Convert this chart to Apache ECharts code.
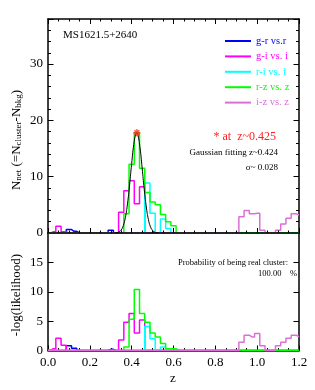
<!DOCTYPE html>
<html><head><meta charset="utf-8">
<script src="https://cdn.jsdelivr.net/npm/echarts@6/dist/echarts.min.js"></script>
<style>html,body{margin:0;padding:0;background:#fff}#c{width:315px;height:390px}</style>
</head><body><div id="c"></div>
<script>
// bin centres (redshift), bin width 0.025
const BINS = [0,0.025,0.05,0.075,0.1,0.125,0.15,0.175,0.2,0.225,0.25,0.275,0.3,0.325,0.35,0.375,0.4,0.425,0.45,0.475,0.5,0.525,0.55,0.575,0.6,
  0.625,0.65,0.675,0.7,0.725,0.75,0.775,0.8,0.825,0.85,0.875,0.9,
  0.925,0.95,0.975,1.0,1.025,1.05,1.075,1.1,1.125,1.15,1.175,1.2];

const SERIES_NAMES = ['g-r vs.r','g-i vs. i','r-i vs. i','r-z vs. z','i-z vs. z'];
const SERIES_COLORS = ['#0000FF','#FF00FF','#00FFFF','#00FF00','#DA70D6'];

// top panel: N_net
const TOP_GR = [0,0,0,0,0.6,0.3,0,0,0,0,0,0,0.5,0,0,0,0,0,0,0,0,0,0,0,0, 0,0,0,0,0,0,0,0,0,0,0,0, 0,0,0,0,0,0,0,0,0,0,0,0];
const TOP_GI = [0,0.2,1.2,0.2,0,0,0,0,0,0,0,0,0,0,3.7,7.5,9.3,5.2,8.2,0,0,0,0,0,0, 0,0,0,0,0,0,0,0,0,0,0,0, 0,0,0,0,0,0,0,0,0,0,0,0];
const TOP_RI = [0,0,0,0,0,0,0,0,0,0,0,0,0,0,0,0,0,0,0,8.9,3.5,0,2.5,0.8,0, 0,0,0,0,0,0,0,0,0,0,0,0, 0,0,0,0,0,0,0,0,0,0,0,0];
const TOP_RZ = [0,0,0,0,0,0,0,0,0,0,0,0,0,0,0,3.4,12.2,17.8,11.5,7.2,5.5,5.0,3.3,2.0,1.3, 0,0,0,0,0,0,0,0,0,0,0,0, 0,0,0,0,0,0,0,0,0,0,0,0];
const TOP_IZ = [0,0,0,0,0,0,0,0,0,0,0,0,0,0,0,0,0,0,0,0,0,0,0,0,0, 0,0,0,0,0,0,0,0,0,0,0,0, 2.9,4.0,3.4,3.5,0.5,0,0,0.5,1.6,2.6,3.4,3.2];

// bottom panel: -log(likelihood)
const BOT_GR = [0,0,0,0,0.8,0.4,0,0,0,0,0,0,0.2,0,0,0,0,0,0,0,0,0,0,0,0, 0,0,0,0,0,0,0,0,0,0,0,0, 0,0,0,0,0,0,0,0,0,0,0,0];
const BOT_GI = [0,0.3,2.1,0.9,0,0,0,0,0,0,0,0,0,0,1.8,4.8,6.3,3.0,5.2,0,0,0,0,0,0, 0,0,0,0,0,0,0,0,0,0,0,0, 0,0,0,0,0,0,0,0,0,0,0,0];
const BOT_RI = [0,0,0,0,0,0,0,0,0,0,0,0,0,0,0,0,0,0,0,4.1,2.0,0,0.6,0,0, 0,0,0,0,0,0,0,0,0,0,0,0, 0,0,0,0,0,0,0,0,0,0,0,0];
const BOT_RZ = [0,0,0,0,0,0,0,0,0,0,0,0,0,0,0,0.6,5.3,10.4,6.3,4.8,3.0,2.3,1.2,0.3,0.3, 0,0,0,0,0,0,0,0,0,0,0,0, 0,0,0,0,0,0,0,0,0,0,0,0];
const BOT_IZ = [0,0,0,0,0,0,0,0,0,0,0,0,0,0,0,0,0,0,0,0,0,0,0,0,0, 0,0,0,0,0,0,0,0,0,0,0,0, 1.4,2.6,2.3,2.9,0.8,0,0,0.8,1.4,2.1,2.6,2.3];

// Gaussian fit curve
const GAUSS_Z = [0.32,0.33,0.34,0.35,0.36,0.37,0.38,0.39,0.40,0.41,0.42,0.425,0.43,0.44,0.45,0.46,0.47,0.48,0.49,0.50,0.51,0.52,0.53];
const GAUSS_V = [0.02,0.06,0.2,0.54,1.31,2.77,5.18,8.52,12.33,15.71,17.62,17.79,17.40,15.12,11.57,7.79,4.62,2.41,1.11,0.45,0.16,0.05,0.02];

const PEAK = [[0.425, 17.8]];

const X_MIN = 0, X_MAX = 1.2, X_STEP = 0.2;
const TOP_Y_MAX = 38, BOT_Y_MAX = 20;

const FONT = 'Liberation Serif';
const TOP = [TOP_GR, TOP_GI, TOP_RI, TOP_RZ, TOP_IZ];
const BOT = [BOT_GR, BOT_GI, BOT_RI, BOT_RZ, BOT_IZ];

function pairs(vals){ return BINS.map((z,i)=>[z, vals[i]]); }

function xAx(grid, pos, labels, z){
  return {type:'value', gridIndex:grid, position:pos, min:X_MIN, max:X_MAX, interval:X_STEP, z:z||0,
    axisLine:{show:true, onZero:false, lineStyle:{color:'#000', width:1.5}},
    axisTick:{show:true, inside:true, length:5, lineStyle:{color:'#000', width:1}},
    minorTick:{show:true, splitNumber:4, length:2.5, lineStyle:{color:'#000', width:1}},
    splitLine:{show:false}, minorSplitLine:{show:false},
    axisLabel:{show:labels, margin:6, color:'#000', fontFamily:FONT, fontSize:13, formatter:v=>v.toFixed(1)}};
}
function yAx(grid, pos, max, interval, tickLen, labels, lineShow, fmt){
  return {type:'value', gridIndex:grid, position:pos, min:0, max:max, interval:interval,
    axisLine:{show:lineShow, onZero:false, lineStyle:{color:'#000', width:1.5}},
    axisTick:{show:true, inside:true, length:tickLen, lineStyle:{color:'#000', width:1}},
    splitLine:{show:false},
    axisLabel:{show:labels, margin:5, color:'#000', fontFamily:FONT, fontSize:13, formatter:fmt}};
}

const series = [];
SERIES_NAMES.forEach((n,k)=>{
  series.push({type:'line', name:n, xAxisIndex:0, yAxisIndex:0, data:pairs(TOP[k]), step:'middle',
    symbol:'none', lineStyle:{color:SERIES_COLORS[k], width:1.5}, itemStyle:{color:SERIES_COLORS[k]}, z:2+k*0.01});
  series.push({type:'line', name:n, xAxisIndex:2, yAxisIndex:4, data:pairs(BOT[k]), step:'middle',
    symbol:'none', lineStyle:{color:SERIES_COLORS[k], width:1.5}, itemStyle:{color:SERIES_COLORS[k]}, z:2+k*0.01});
});
series.push({type:'line', name:'gauss', xAxisIndex:0, yAxisIndex:0, data:GAUSS_Z.map((z,i)=>[z,GAUSS_V[i]]),
  smooth:true, symbol:'none', lineStyle:{color:'#000', width:1}, z:3});
series.push({type:'scatter', name:'peak', xAxisIndex:0, yAxisIndex:0, data:PEAK,
  symbol:'path://M5,0L5,10M0,5L10,5M1.5,1.5L8.5,8.5M1.5,8.5L8.5,1.5', symbolSize:7,
  itemStyle:{color:'none', borderColor:'#FF2A1A', borderWidth:1.6}, z:4});

const option = {
  animation:false,
  backgroundColor:'#fff',
  grid:[{left:48, right:16, top:19, height:214},{left:48, right:16, top:233, height:117.5}],
  xAxis:[ xAx(0,'bottom',false,5), xAx(0,'top',false), xAx(1,'bottom',true) ],
  yAxis:[
    yAx(0,'left',TOP_Y_MAX,10,5.5,true,true,v=>(v%10===0?v:'')),
    yAx(0,'left',TOP_Y_MAX,2,3,false,false),
    yAx(0,'right',TOP_Y_MAX,10,5.5,false,true),
    yAx(0,'right',TOP_Y_MAX,2,3,false,false),
    yAx(1,'left',BOT_Y_MAX,5,5.5,true,true,v=>(v<BOT_Y_MAX?v:'')),
    yAx(1,'right',BOT_Y_MAX,5,5.5,false,true)
  ],
  legend:{orient:'vertical', left:220, top:29.5, itemWidth:26, itemHeight:2, itemGap:2.4, icon:'rect',
    selectedMode:false,
    textStyle:{fontFamily:FONT, fontSize:10.5, lineHeight:13},
    data:SERIES_NAMES.map((n,k)=>({name:n, textStyle:{color:SERIES_COLORS[k]}}))},
  graphic:[
    {type:'text', x:63, y:35, style:{text:'MS1621.5+2640', font:'11px "Liberation Serif"', fill:'#000', align:'left', verticalAlign:'middle'}},
    {type:'text', x:276, y:137, style:{text:'* at  z~0.425', font:'12px "Liberation Serif"', fill:'#FF2020', align:'right', verticalAlign:'middle'}},
    {type:'text', x:278, y:153, style:{text:'Gaussian fitting z~0.424', font:'9px "Liberation Serif"', fill:'#000', align:'right', verticalAlign:'middle'}},
    {type:'text', x:278, y:168, style:{text:'\u03c3~ 0.028', font:'9px "Liberation Serif"', fill:'#000', align:'right', verticalAlign:'middle'}},
    {type:'text', x:288, y:263, style:{text:'Probability of being real cluster:', font:'8.5px "Liberation Serif"', fill:'#000', align:'right', verticalAlign:'middle'}},
    {type:'text', x:297, y:274, style:{text:'100.00    %', font:'8.5px "Liberation Serif"', fill:'#000', align:'right', verticalAlign:'middle'}},
    {type:'text', x:173, y:379, style:{text:'z', font:'13px "Liberation Serif"', fill:'#000', align:'center', verticalAlign:'middle'}},
    {type:'text', x:17, y:295, rotation:Math.PI/2, style:{text:'-log(likelihood)', font:'13px "Liberation Serif"', fill:'#000', align:'center', verticalAlign:'middle'}},
    {type:'text', x:17, y:140, rotation:Math.PI/2, style:{
      text:'{m|N}{s|net}{m| (=N}{s|cluster}{m|-N}{s|bkg}{m|)}', align:'center', verticalAlign:'middle', fill:'#000',
      rich:{m:{fontFamily:FONT, fontSize:13, lineHeight:13, verticalAlign:'top', fill:'#000'},
            s:{fontFamily:FONT, fontSize:9, lineHeight:9, verticalAlign:'bottom', fill:'#000'}}}}
  ],
  series:series
};
const chart = echarts.init(document.getElementById('c'), null, {renderer:'canvas'});
chart.setOption(option);
</script></body></html>
